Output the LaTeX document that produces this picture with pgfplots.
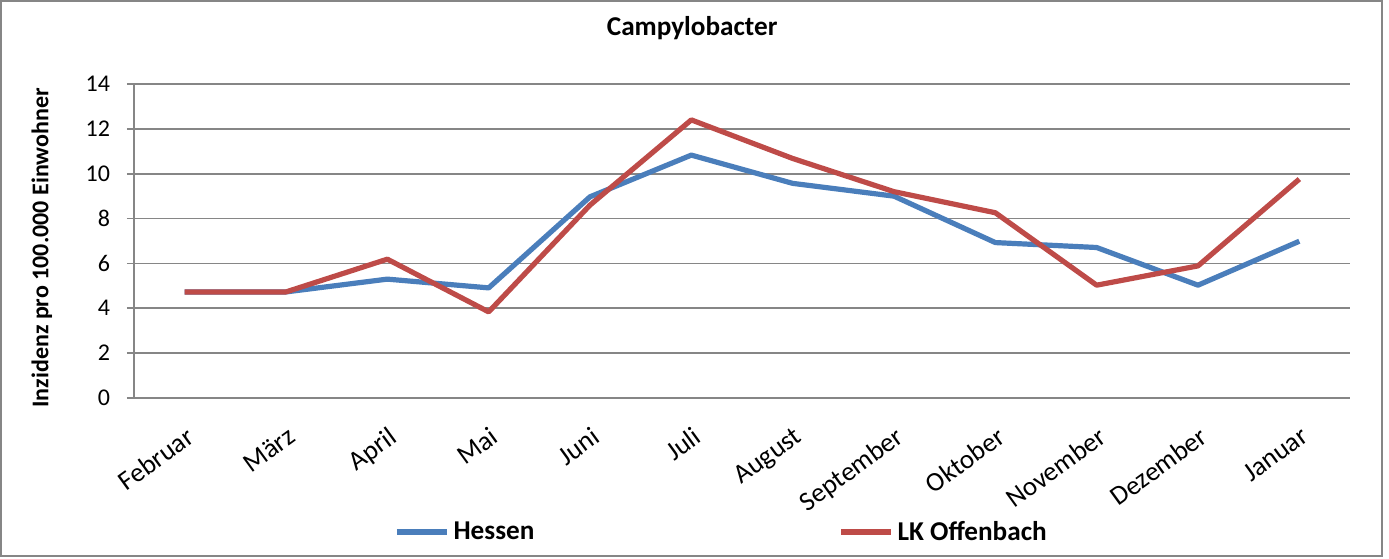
\documentclass[border=0pt]{standalone}
\usepackage{pgfplots}
\pgfplotsset{compat=1.18}
\usepackage{fontspec}
\setmainfont{Carlito}
\definecolor{hblue}{HTML}{4A7EBB}
\definecolor{ored}{HTML}{BE4B48}
\definecolor{gridgray}{HTML}{868686}
\pgfplotstableread{
x hessen offenbach
0 4.73 4.73
1 4.73 4.73
2 5.30 6.19
3 4.91 3.84
4 8.97 8.60
5 10.83 12.40
6 9.57 10.68
7 9.00 9.20
8 6.93 8.26
9 6.71 5.03
10 5.03 5.89
11 6.99 9.76
}\datatable
\begin{document}
\begin{tikzpicture}
\path (-67pt,-80pt) rectangle (627.5pt,199pt);
\begin{axis}[
  scale only axis,
  width=608pt, height=157pt,
  xmin=-0.5, xmax=11.5,
  ymin=0, ymax=14,
  ytick={0,2,...,14},
  xtick={0,...,11},
  xticklabels={Februar,März,April,Mai,Juni,Juli,August,September,Oktober,November,Dezember,Januar},
  minor xtick={-0.5,0.5,...,11.5},
  axis lines*=left,
  axis line style={-, gridgray, line width=0.8pt},
  ymajorgrids,
  grid style={gridgray, line width=0.8pt},
  tick align=outside,
  major tick length=3.5pt,
  minor tick length=3.5pt,
  x tick style={draw=none},
  minor x tick style={gridgray, line width=0.8pt},
  y tick style={gridgray, line width=0.8pt},
  /pgf/number format/assume math mode=true,
  y tick label style={font=\fontsize{12}{14}\selectfont, xshift=-5pt},
  x tick label style={font=\fontsize{13.5}{16}\selectfont, rotate=36, anchor=north east, xshift=-2.5pt, yshift=-5pt},
  title={Campylobacter},
  title style={font=\fontsize{13.6}{16}\selectfont\bfseries, at={(axis description cs:0.459,1.14)}, anchor=center},
  ylabel={Inzidenz pro 100.000 Einwohner},
  ylabel style={font=\fontsize{12}{14}\selectfont\bfseries, at={(axis description cs:-0.0757,0.478)}, anchor=center},
  legend columns=2,
  legend style={draw=none, fill=none, font=\fontsize{13.6}{16}\selectfont\bfseries,
    at={(axis description cs:0.484,-0.427)}, anchor=center,
    /tikz/every even column/.append style={column sep=150pt}},
  legend image code/.code={\draw[#1] (0pt,0pt) -- (25pt,0pt);},
]
\addplot[hblue, line width=2.6pt, line join=round] table[x=x, y=hessen] {\datatable};
\addlegendentry{Hessen}
\addplot[ored, line width=2.6pt, line join=round] table[x=x, y=offenbach] {\datatable};
\addlegendentry{LK Offenbach}
\end{axis}
\draw[gridgray, line width=0.7pt] (-66.5pt,-79pt) rectangle (624pt,198.5pt);
\end{tikzpicture}
\end{document}
